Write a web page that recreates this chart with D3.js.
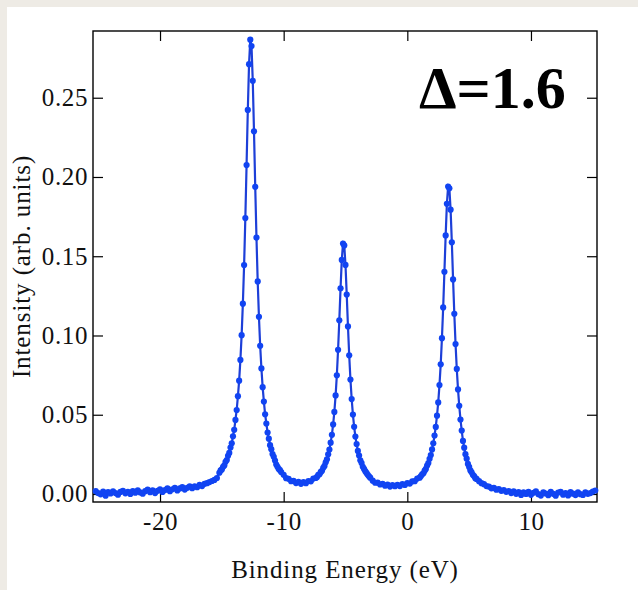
<!DOCTYPE html>
<html>
<head>
<meta charset="utf-8">
<script src="https://cdn.jsdelivr.net/npm/d3@7"></script>
<style>
  body { margin: 0; background: #eeebe5; }
  svg { display: block; }
</style>
</head>
<body>
<div id="chart"></div>
<script>
// axis ticks
const xTicks = [-20, -10, 0, 10];
const yTicks = [0, 0.05, 0.10, 0.15, 0.20, 0.25];
const label = "\u0394=1.6";

// spectrum as [binding energy (eV), intensity]
const tailLeft = [
  [-25.2, 0.0018], [-25.0, 0.0006], [-24.8, -0.0002], [-24.6, 0.0015], [-24.4, -0.0011],
  [-24.2, 0.0012], [-24.0, 0.0003], [-23.8, 0.0017], [-23.6, 0.0006], [-23.4, -0.0004],
  [-23.2, 0.0013], [-23.0, 0.0020], [-22.8, 0.0004], [-22.6, 0.0014], [-22.4, 0.0000],
  [-22.2, 0.0018], [-22.0, 0.0008], [-21.8, 0.0023], [-21.6, 0.0010], [-21.4, 0.0002],
  [-21.2, 0.0018], [-21.0, 0.0027], [-20.8, 0.0011], [-20.6, 0.0023], [-20.4, 0.0006],
  [-20.2, 0.0020], [-20.0, 0.0030], [-19.8, 0.0013], [-19.6, 0.0025], [-19.4, 0.0035],
  [-19.2, 0.0018], [-19.0, 0.0030], [-18.8, 0.0038], [-18.6, 0.0022], [-18.4, 0.0035],
  [-18.2, 0.0043], [-18.0, 0.0028], [-17.8, 0.0039], [-17.6, 0.0049], [-17.4, 0.0037],
  [-17.2, 0.0049], [-17.0, 0.0043], [-16.8, 0.0057], [-16.6, 0.0050], [-16.4, 0.0064],
  [-16.2, 0.0068], [-16.0, 0.0075], [-15.8, 0.0082], [-15.6, 0.0089], [-15.4, 0.0101]
];

const peakA = [
  [-15.2, 0.0134], [-15.1, 0.0149], [-15.0, 0.0155], [-14.9, 0.0172], [-14.8, 0.0180],
  [-14.7, 0.0203], [-14.6, 0.0214], [-14.5, 0.0241], [-14.4, 0.0259], [-14.3, 0.0293],
  [-14.2, 0.0320], [-14.1, 0.0364], [-14.0, 0.0405], [-13.9, 0.0467], [-13.8, 0.0530],
  [-13.7, 0.0617], [-13.6, 0.0715], [-13.5, 0.0846], [-13.4, 0.1002], [-13.3, 0.1201],
  [-13.2, 0.1444], [-13.1, 0.1741], [-13.0, 0.2075], [-12.9, 0.2423], [-12.8, 0.2712],
  [-12.7, 0.2866], [-12.6, 0.2826], [-12.5, 0.2607], [-12.4, 0.2288], [-12.3, 0.1938],
  [-12.2, 0.1618], [-12.1, 0.1341], [-12.0, 0.1118], [-11.9, 0.0935], [-11.8, 0.0792],
  [-11.7, 0.0674], [-11.6, 0.0583], [-11.5, 0.0503], [-11.4, 0.0444], [-11.3, 0.0388],
  [-11.2, 0.0349], [-11.1, 0.0308], [-11.0, 0.0283], [-10.9, 0.0252], [-10.8, 0.0235],
  [-10.7, 0.0211], [-10.6, 0.0186], [-10.5, 0.0172], [-10.4, 0.0158], [-10.3, 0.0150],
  [-10.2, 0.0138]
];

const valleyA = [
  [-10.0, 0.0121], [-9.8, 0.0100], [-9.6, 0.0096], [-9.4, 0.0081], [-9.2, 0.0083],
  [-9.0, 0.0069], [-8.8, 0.0076], [-8.6, 0.0064], [-8.4, 0.0075], [-8.2, 0.0068],
  [-8.0, 0.0082], [-7.8, 0.0080], [-7.6, 0.0097], [-7.4, 0.0101]
];

const peakB = [
  [-7.3, 0.0108], [-7.2, 0.0121], [-7.1, 0.0124], [-7.0, 0.0139], [-6.9, 0.0146],
  [-6.8, 0.0165], [-6.7, 0.0177], [-6.6, 0.0200], [-6.5, 0.0219], [-6.4, 0.0250],
  [-6.3, 0.0280], [-6.2, 0.0324], [-6.1, 0.0373], [-6.0, 0.0439], [-5.9, 0.0518],
  [-5.8, 0.0622], [-5.7, 0.0749], [-5.6, 0.0910], [-5.5, 0.1096], [-5.4, 0.1298],
  [-5.3, 0.1477], [-5.2, 0.1580], [-5.1, 0.1568], [-5.0, 0.1445], [-4.9, 0.1258],
  [-4.8, 0.1057], [-4.7, 0.0875], [-4.6, 0.0722], [-4.5, 0.0599], [-4.4, 0.0501],
  [-4.3, 0.0424], [-4.2, 0.0362], [-4.1, 0.0315], [-4.0, 0.0272], [-3.9, 0.0243],
  [-3.8, 0.0213], [-3.7, 0.0195], [-3.6, 0.0172], [-3.5, 0.0158], [-3.4, 0.0144],
  [-3.3, 0.0133], [-3.2, 0.0121], [-3.1, 0.0112], [-3.0, 0.0103]
];

const valleyB = [
  [-2.8, 0.0084], [-2.6, 0.0071], [-2.4, 0.0072], [-2.2, 0.0060], [-2.0, 0.0064],
  [-1.8, 0.0052], [-1.6, 0.0059], [-1.4, 0.0047], [-1.2, 0.0056], [-1.0, 0.0049],
  [-0.8, 0.0058], [-0.6, 0.0050], [-0.4, 0.0063], [-0.2, 0.0057], [0.0, 0.0069],
  [0.2, 0.0066], [0.4, 0.0080], [0.6, 0.0081], [0.8, 0.0097], [1.0, 0.0103]
];

const peakC = [
  [1.1, 0.0113], [1.2, 0.0124], [1.3, 0.0131], [1.4, 0.0147], [1.5, 0.0158],
  [1.6, 0.0179], [1.7, 0.0195], [1.8, 0.0222], [1.9, 0.0246], [2.0, 0.0281],
  [2.1, 0.0320], [2.2, 0.0369], [2.3, 0.0423], [2.4, 0.0494], [2.5, 0.0578],
  [2.6, 0.0687], [2.7, 0.0818], [2.8, 0.0983], [2.9, 0.1177], [3.0, 0.1402],
  [3.1, 0.1631], [3.2, 0.1831], [3.3, 0.1940], [3.4, 0.1929], [3.5, 0.1794],
  [3.6, 0.1588], [3.7, 0.1354], [3.8, 0.1137], [3.9, 0.0946], [4.0, 0.0789],
  [4.1, 0.0660], [4.2, 0.0556], [4.3, 0.0470], [4.4, 0.0400], [4.5, 0.0335],
  [4.6, 0.0292], [4.7, 0.0251], [4.8, 0.0223], [4.9, 0.0190], [5.0, 0.0171],
  [5.1, 0.0149], [5.2, 0.0137], [5.3, 0.0121], [5.4, 0.0113], [5.5, 0.0100],
  [5.6, 0.0095]
];

const tailRight = [
  [5.8, 0.0081], [6.0, 0.0068], [6.2, 0.0062], [6.4, 0.0050], [6.6, 0.0047],
  [6.8, 0.0036], [7.0, 0.0038], [7.2, 0.0027], [7.4, 0.0031], [7.6, 0.0020],
  [7.8, 0.0024], [8.0, 0.0014], [8.2, 0.0019], [8.4, 0.0006], [8.6, 0.0016],
  [8.8, 0.0001], [9.0, 0.0012], [9.2, -0.0006], [9.4, 0.0010], [9.6, 0.0000],
  [9.8, 0.0014], [10.0, -0.0005], [10.2, 0.0008], [10.4, 0.0016], [10.6, -0.0001],
  [10.8, -0.0010], [11.0, 0.0011], [11.2, 0.0003], [11.4, -0.0008], [11.6, 0.0013],
  [11.8, 0.0001], [12.0, -0.0011], [12.2, 0.0009], [12.4, 0.0014], [12.6, -0.0004],
  [12.8, 0.0006], [13.0, -0.0009], [13.2, 0.0012], [13.4, 0.0002], [13.6, -0.0007],
  [13.8, 0.0010], [14.0, -0.0001], [14.2, -0.0006], [14.4, 0.0011], [14.6, 0.0001],
  [14.8, 0.0006], [15.0, 0.0015], [15.2, 0.0022]
];

const spectrum = [...tailLeft, ...peakA, ...valleyA, ...peakB, ...valleyB, ...peakC, ...tailRight];

const width = 638;
const height = 590;
const margin = { top: 31, right: 41, bottom: 88, left: 93 };
const innerWidth = width - margin.left - margin.right;
const innerHeight = height - margin.top - margin.bottom;
const serif = "'Liberation Serif', 'Times New Roman', serif";

const svg = d3.select("#chart")
  .append("svg")
  .attr("width", width)
  .attr("height", height);

// white sheet over the beige page
svg.append("rect")
  .attr("x", 7)
  .attr("y", 7)
  .attr("width", width - 7)
  .attr("height", height - 7)
  .attr("fill", "#ffffff");

const innerChart = svg.append("g")
  .attr("transform", `translate(${margin.left}, ${margin.top})`);

// scales
const xScale = d3.scaleLinear()
  .domain([-25.42, 15.34])
  .range([0, innerWidth]);

const yScale = d3.scaleLinear()
  .domain([-0.00505, 0.2921])
  .range([innerHeight, 0]);

// axes, ticks pointing inwards
const styleAxis = (g) => {
  g.select(".domain").remove();
  g.selectAll(".tick line").attr("stroke", "#000").attr("stroke-width", 1.2);
  g.attr("font-family", serif).attr("font-size", 25);
  g.selectAll(".tick text").attr("fill", "#111").attr("letter-spacing", 0.6);
};

innerChart.append("g")
  .attr("transform", `translate(0, ${innerHeight})`)
  .call(d3.axisBottom(xScale).tickValues(xTicks).tickSize(-10).tickPadding(10).tickFormat(d => String(d)))
  .call(styleAxis);

innerChart.append("g")
  .call(d3.axisTop(xScale).tickValues(xTicks).tickSize(-10).tickFormat(""))
  .call(styleAxis);

innerChart.append("g")
  .call(d3.axisLeft(yScale).tickValues(yTicks).tickSize(-10).tickPadding(5).tickFormat(d3.format(".2f")))
  .call(styleAxis);

innerChart.append("g")
  .attr("transform", `translate(${innerWidth}, 0)`)
  .call(d3.axisRight(yScale).tickValues(yTicks).tickSize(-10).tickFormat(""))
  .call(styleAxis);

// frame
innerChart.append("rect")
  .attr("width", innerWidth)
  .attr("height", innerHeight)
  .attr("fill", "none")
  .attr("stroke", "#000")
  .attr("stroke-width", 1.4);

// line + points
const line = d3.line()
  .x(d => xScale(d[0]))
  .y(d => yScale(d[1]));

innerChart.append("path")
  .datum(spectrum)
  .attr("d", line)
  .attr("fill", "none")
  .attr("stroke", "#1d3fd8")
  .attr("stroke-width", 2.2);

innerChart.selectAll("circle")
  .data(spectrum)
  .enter()
  .append("circle")
  .attr("cx", d => xScale(d[0]))
  .attr("cy", d => yScale(d[1]))
  .attr("r", 3.1)
  .attr("fill", "#1144f2");

// annotation
svg.append("text")
  .attr("x", 419)
  .attr("y", 108)
  .attr("font-family", serif)
  .attr("font-size", 60)
  .attr("font-weight", "bold")
  .attr("fill", "#000")
  .text(label);

// x label
svg.append("text")
  .attr("x", margin.left + innerWidth / 2)
  .attr("y", 578)
  .attr("text-anchor", "middle")
  .attr("font-family", serif)
  .attr("font-size", 25)
  .attr("letter-spacing", 0.9)
  .attr("fill", "#111")
  .text("Binding Energy (eV)");

// y label
svg.append("text")
  .attr("transform", `translate(30, ${margin.top + innerHeight / 2}) rotate(-90)`)
  .attr("text-anchor", "middle")
  .attr("font-family", serif)
  .attr("font-size", 25)
  .attr("letter-spacing", 0.9)
  .attr("fill", "#111")
  .text("Intensity (arb. units)");
</script>
</body>
</html>
